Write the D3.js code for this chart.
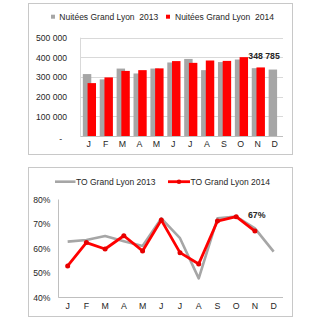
<!DOCTYPE html>
<html><head><meta charset="utf-8">
<script src="https://cdn.jsdelivr.net/npm/d3@7"></script>
<style>
html,body{margin:0;padding:0;background:#fff;}
text{font-family:"Liberation Sans",Arial,sans-serif;fill:#262626;white-space:pre;}
</style></head>
<body><svg id="c" width="324" height="324"></svg>
<script>
const months = ["J","F","M","A","M","J","J","A","S","O","N","D"];
const nuitees2013 = [315000, 288000, 343000, 318000, 343000, 374000, 392000, 335000, 376000, 389000, 345000, 338000];
const nuitees2014 = [269000, 298000, 331000, 335000, 344000, 381000, 372000, 384000, 382000, 401000, 348785];
const barTicks = [0, 100000, 200000, 300000, 400000, 500000];
const to2013 = [62.8, 63.5, 65.1, 63.0, 61.0, 72.3, 64.2, 47.8, 72.3, 73.0, 68.2, 58.7];
const to2014 = [52.9, 62.4, 59.8, 65.2, 59.0, 71.6, 58.3, 53.7, 71.2, 73.0, 67.1];
const lineTicks = [40, 50, 60, 70, 80];
const legendTop = ["Nuitées Grand Lyon  2013", "Nuitées Grand Lyon  2014"];
const legendBottom = ["TO Grand Lyon 2013", "TO Grand Lyon 2014"];
const barLabel = "348 785";
const lineLabel = "67%";

const GRAY = "#a6a6a6", RED = "#ff0000";
const svg = d3.select("#c");
svg.append("rect").attr("width",324).attr("height",324).attr("fill","#fff");

// frames
svg.append("rect").attr("x",28.5).attr("y",3.5).attr("width",264).attr("height",151)
  .attr("fill","#fff").attr("stroke","#c8c8c8");
svg.append("rect").attr("x",28.5).attr("y",167.5).attr("width",264).attr("height",149)
  .attr("fill","#fff").attr("stroke","#c8c8c8");

// ---------- top bar chart ----------
const idx = d3.range(months.length);
const xb = d3.scaleBand().domain(idx).range([80.3, 283]).padding(0);
const yb = d3.scaleLinear().domain([0, 500000]).range([136, 37.7]);
const bw = xb.bandwidth();
const g1 = svg.append("g");

g1.selectAll("line.grid").data(barTicks.filter(d=>d>0)).join("line")
  .attr("x1", 80.3).attr("x2", 283)
  .attr("y1", d=>Math.round(yb(d))+0.5).attr("y2", d=>Math.round(yb(d))+0.5)
  .attr("stroke","#d9d9d9").attr("stroke-width",1);
g1.append("line").attr("x1",80.5).attr("x2",80.5).attr("y1",yb(500000)).attr("y2",yb(0))
  .attr("stroke","#d9d9d9");

g1.selectAll("rect.b13").data(nuitees2013).join("rect")
  .attr("x",(d,i)=>xb(i)+bw*0.15).attr("width",bw*0.5)
  .attr("y",d=>yb(d)).attr("height",d=>yb(0)-yb(d)).attr("fill",GRAY);
g1.selectAll("rect.b14").data(nuitees2014).join("rect")
  .attr("x",(d,i)=>xb(i)+bw*0.43).attr("width",bw*0.5)
  .attr("y",d=>yb(d)).attr("height",d=>yb(0)-yb(d)).attr("fill",RED);

g1.append("line").attr("x1",80.3).attr("x2",283).attr("y1",136.5).attr("y2",136.5)
  .attr("stroke","#bfbfbf");

const fmt = d => d===0 ? "-" : d3.format(",")(d).replace(/,/g," ");
const ay1 = g1.append("g").attr("transform","translate(67,0)")
  .call(d3.axisLeft(yb).tickValues(barTicks).tickSize(0).tickPadding(0).tickFormat(fmt));
ay1.select(".domain").remove();
ay1.selectAll("text").style("font-size","8.6px").attr("fill","#262626");
ay1.selectAll(".tick").filter(d=>d===0).select("text").attr("dx",-5).attr("dy","0.6em");

const ax1 = g1.append("g").attr("transform","translate(0,141)")
  .call(d3.axisBottom(xb).tickSize(0).tickPadding(0).tickFormat(i=>months[i]));
ax1.select(".domain").remove();
ax1.selectAll("text").style("font-size","8.8px").attr("fill","#262626");

g1.append("text").attr("x", xb(9)+bw*0.95).attr("y", yb(nuitees2014[9])+1.8)
  .style("font-size","8.7px").style("font-weight","bold").attr("fill","#000").text(barLabel);

// legend top
g1.append("rect").attr("x",51).attr("y",14.7).attr("width",4).attr("height",4).attr("fill",GRAY);
g1.append("text").attr("x",59.3).attr("y",19.8).style("font-size","8.5px").text(legendTop[0]);
g1.append("rect").attr("x",166).attr("y",14.7).attr("width",4).attr("height",4).attr("fill",RED);
g1.append("text").attr("x",175).attr("y",19.8).style("font-size","8.5px").text(legendTop[1]);

// ---------- bottom line chart ----------
const xl = d3.scaleBand().domain(idx).range([58.3, 283]).padding(0);
const yl = d3.scaleLinear().domain([40, 80]).range([297.5, 199.5]);
const g2 = svg.append("g");
g2.append("line").attr("x1",58.5).attr("x2",58.5).attr("y1",yl(80)).attr("y2",yl(40)).attr("stroke","#bfbfbf");
g2.append("line").attr("x1",58.3).attr("x2",283).attr("y1",297.5).attr("y2",297.5).attr("stroke","#bfbfbf");

const ay2 = g2.append("g").attr("transform","translate(50.5,0)")
  .call(d3.axisLeft(yl).tickValues(lineTicks).tickSize(0).tickPadding(0).tickFormat(d=>d+"%"));
ay2.select(".domain").remove();
ay2.selectAll("text").style("font-size","8.6px").attr("fill","#262626");

const ax2 = g2.append("g").attr("transform","translate(0,303)")
  .call(d3.axisBottom(xl).tickSize(0).tickPadding(0).tickFormat(i=>months[i]));
ax2.select(".domain").remove();
ax2.selectAll("text").style("font-size","8.8px").attr("fill","#262626");

const cx = i => xl(i) + xl.bandwidth()/2;
const line = d3.line().x((d,i)=>cx(i)).y(d=>yl(d));
g2.append("path").datum(to2013).attr("d",line).attr("fill","none")
  .attr("stroke",GRAY).attr("stroke-width",2.6).attr("stroke-linejoin","round");
g2.append("path").datum(to2014).attr("d",line).attr("fill","none")
  .attr("stroke",RED).attr("stroke-width",2.8).attr("stroke-linejoin","round");
g2.selectAll("circle.p").data(to2014).join("circle")
  .attr("cx",(d,i)=>cx(i)).attr("cy",d=>yl(d)).attr("r",2.5).attr("fill","#e60000");

g2.append("text").attr("x", cx(10)-7).attr("y", yl(to2014[10])-13)
  .style("font-size","8.8px").style("font-weight","bold").attr("fill","#000").text(lineLabel);

// legend bottom
g2.append("line").attr("x1",55).attr("x2",75.5).attr("y1",181.7).attr("y2",181.7).attr("stroke",GRAY).attr("stroke-width",2.6);
g2.append("text").attr("x",76).attr("y",184.8).style("font-size","8.5px").text(legendBottom[0]);
g2.append("line").attr("x1",168).attr("x2",190).attr("y1",181.7).attr("y2",181.7).attr("stroke",RED).attr("stroke-width",2.8);
g2.append("circle").attr("cx",179).attr("cy",181.7).attr("r",2.3).attr("fill","#e60000");
g2.append("text").attr("x",190.5).attr("y",184.8).style("font-size","8.5px").text(legendBottom[1]);
</script></body></html>
